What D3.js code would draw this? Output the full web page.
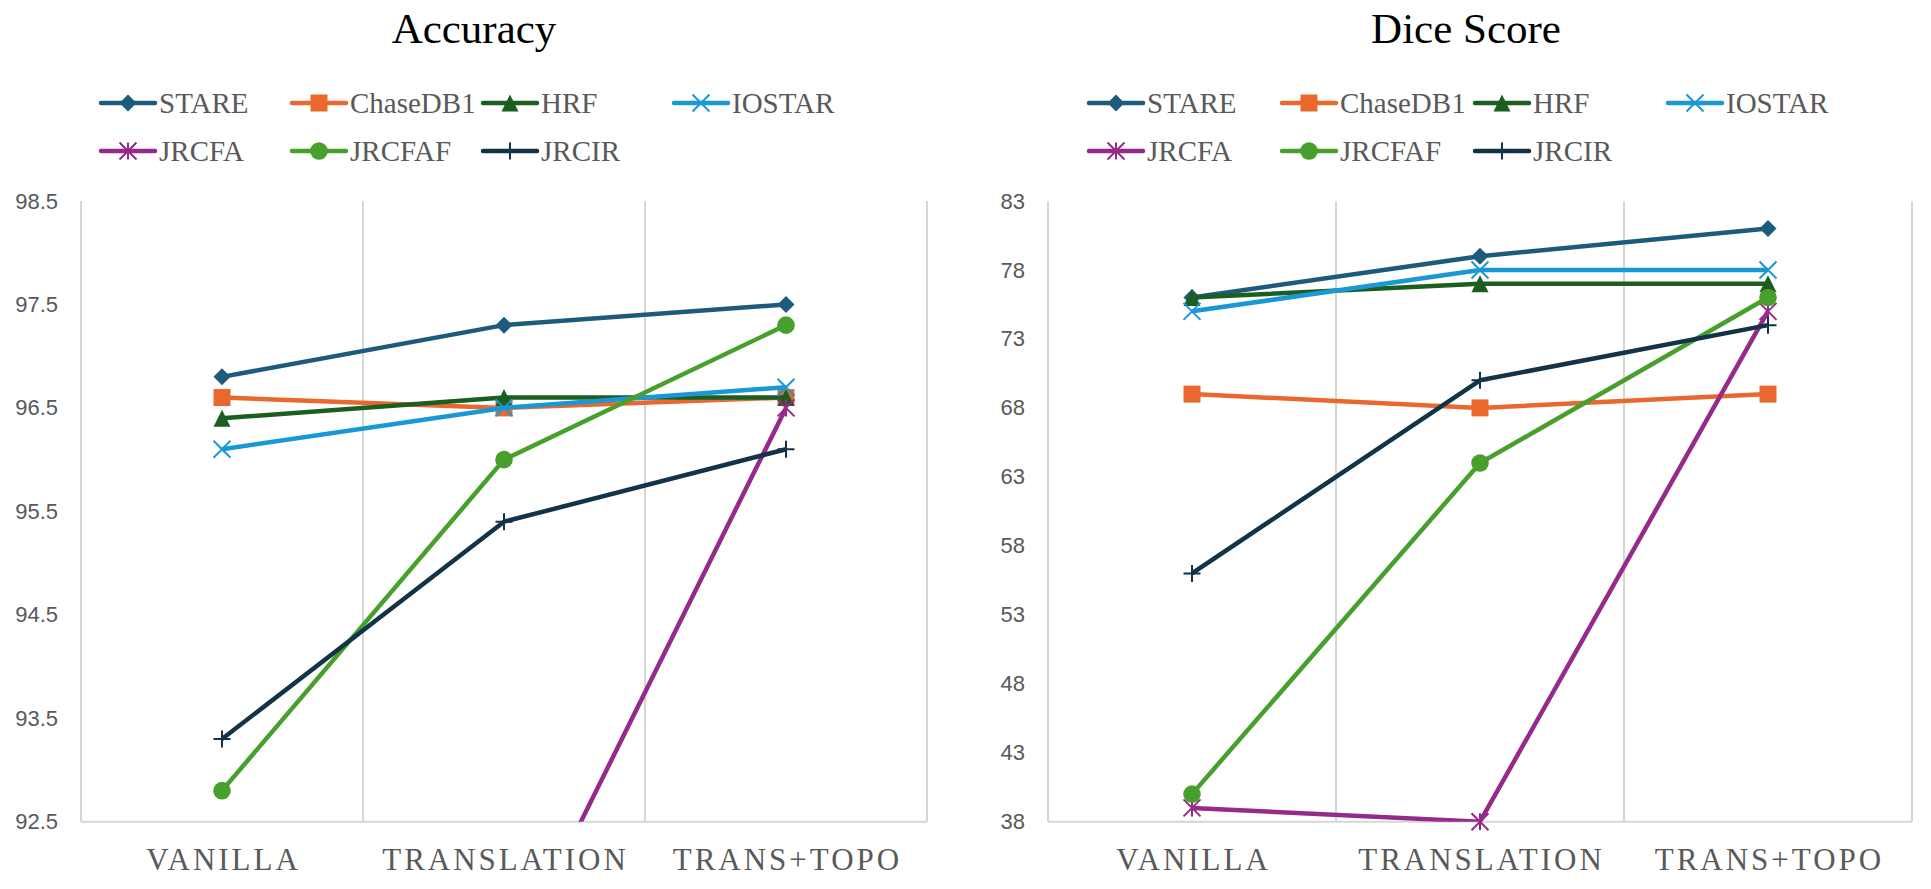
<!DOCTYPE html>
<html>
<head>
<meta charset="utf-8">
<script src="https://cdn.jsdelivr.net/npm/d3@7"></script>
<style>
  body { margin: 0; background: #fff; }
  svg { display: block; }
</style>
</head>
<body>
<div id="chart"></div>
<script>
// data
const categories = ["VANILLA", "TRANSLATION", "TRANS+TOPO"];
const seriesNames = ["STARE", "ChaseDB1", "HRF", "IOSTAR", "JRCFA", "JRCFAF", "JRCIR"];
const seriesColors = ["#1d5b7c", "#e8682d", "#1b5e20", "#1a98d5", "#952a8a", "#47a02c", "#133349"];
const seriesMarkers = ["diamond", "square", "triangle", "x", "star", "circle", "plus"];

const accuracyValues = [
    [96.8, 97.3, 97.5],
    [96.6, 96.5, 96.6],
    [96.4, 96.6, 96.6],
    [96.1, 96.5, 96.7],
    [91.1, 91.0, 96.5],
    [92.8, 96.0, 97.3],
    [93.3, 95.4, 96.1]
];
const diceValues = [
    [76, 79, 81],
    [69, 68, 69],
    [76, 77, 77],
    [75, 78, 78],
    [39, 38, 75],
    [40, 64, 76],
    [56, 70, 74]
];
const accuracyTicks = [92.5, 93.5, 94.5, 95.5, 96.5, 97.5, 98.5];
const diceTicks = [38, 43, 48, 53, 58, 63, 68, 73, 78, 83];

const W = 1931, H = 889;
const textGray = "#595959";
const gridColor = "#d6d6d6";

const svg = d3.select("#chart").append("svg")
    .attr("width", W)
    .attr("height", H);

// marker shapes, centred on 0,0
function markerPath(type) {
    const s = 8.5;
    switch (type) {
        case "diamond": return `M0,${-s}L${s},0L0,${s}L${-s},0Z`;
        case "square": return `M${-s},${-s}H${s}V${s}H${-s}Z`;
        case "triangle": return `M0,${-s}L${s},${s}L${-s},${s}Z`;
        case "x": return `M${-s},${-s}L${s},${s}M${s},${-s}L${-s},${s}`;
        case "star": return `M${-s},${-s}L${s},${s}M${s},${-s}L${-s},${s}M0,${-s}V${s}`;
        case "plus": return `M${-s},0H${s}M0,${-s}V${s}`;
    }
    return null;
}

function drawMarker(sel, type, color) {
    if (type === "circle") {
        sel.append("circle").attr("r", 8.8).attr("fill", color);
    } else if (type === "x" || type === "star" || type === "plus") {
        sel.append("path").attr("d", markerPath(type))
            .attr("fill", "none").attr("stroke", color).attr("stroke-width", 2);
    } else {
        sel.append("path").attr("d", markerPath(type)).attr("fill", color);
    }
}

function drawPanel(opt) {
    const g = svg.append("g");

    const x = d3.scaleBand().domain(categories).range([opt.left, opt.right]).padding(0);
    const y = d3.scaleLinear().domain([opt.ticks[0], opt.ticks[opt.ticks.length - 1]])
        .range([opt.bottom, opt.top]);
    const cx = c => x(c) + x.bandwidth() / 2;

    // title
    g.append("text")
        .attr("x", opt.titleX).attr("y", 43)
        .attr("text-anchor", "middle")
        .style("font-family", "'Liberation Serif', 'Times New Roman', serif")
        .style("font-size", "43px")
        .attr("fill", "#000")
        .text(opt.title);

    // legend, 4 columns
    seriesNames.forEach((name, i) => {
        const lx = opt.legendX + (i % 4) * opt.legendStep;
        const ly = i < 4 ? 103 : 151;
        const item = g.append("g").attr("transform", `translate(${lx},${ly})`);
        item.append("line")
            .attr("x1", 0).attr("x2", 54).attr("y1", 0).attr("y2", 0)
            .attr("stroke", seriesColors[i]).attr("stroke-width", 4.5)
            .attr("stroke-linecap", "round");
        drawMarker(item.append("g").attr("transform", "translate(27,0)"), seriesMarkers[i], seriesColors[i]);
        item.append("text")
            .attr("x", 58).attr("y", 9.5)
            .style("font-family", "'Liberation Serif', 'Times New Roman', serif")
            .style("font-size", "29px")
            .attr("fill", textGray)
            .text(name);
    });

    // vertical gridlines on category boundaries
    const edges = categories.map(c => x(c)).concat([opt.right]);
    g.selectAll(".vgrid").data(edges).enter().append("line")
        .attr("x1", d => d).attr("x2", d => d)
        .attr("y1", opt.top).attr("y2", opt.bottom)
        .attr("stroke", gridColor).attr("stroke-width", 2);

    // bottom axis line
    g.append("line")
        .attr("x1", opt.left).attr("x2", opt.right)
        .attr("y1", opt.bottom).attr("y2", opt.bottom)
        .attr("stroke", gridColor).attr("stroke-width", 2);

    // y tick labels
    const yAxis = d3.axisLeft(y).tickValues(opt.ticks).tickSize(0).tickPadding(0)
        .tickFormat(d => opt.tickFormat(d));
    const ya = g.append("g").attr("transform", `translate(${opt.left - 23},0)`).call(yAxis);
    ya.select(".domain").remove();
    ya.selectAll("text")
        .style("font-family", "'Liberation Sans', Arial, Helvetica, sans-serif")
        .style("font-size", "22px")
        .attr("fill", textGray);

    // category labels
    g.selectAll(".cat").data(categories).enter().append("text")
        .attr("x", d => cx(d) + 1.5).attr("y", 870)
        .attr("text-anchor", "middle")
        .style("font-family", "'Liberation Serif', 'Times New Roman', serif")
        .style("font-size", "31px")
        .style("letter-spacing", "3px")
        .attr("fill", textGray)
        .text(d => d);

    // clip so lines stop at the plot edge
    const clipId = "clip-" + opt.id;
    svg.append("clipPath").attr("id", clipId).append("rect")
        .attr("x", opt.left).attr("y", opt.top - 20)
        .attr("width", opt.right - opt.left).attr("height", opt.bottom - opt.top + 20);

    const line = d3.line().x((d, j) => cx(categories[j])).y(d => y(d));
    const [lo, hi] = y.domain();

    opt.values.forEach((vals, i) => {
        const sg = g.append("g");
        sg.append("path")
            .datum(vals)
            .attr("d", line)
            .attr("fill", "none")
            .attr("stroke", seriesColors[i])
            .attr("stroke-width", 4.5)
            .attr("stroke-linejoin", "round")
            .attr("clip-path", `url(#${clipId})`);
        vals.forEach((v, j) => {
            if (v < lo || v > hi) return;
            drawMarker(sg.append("g").attr("transform", `translate(${cx(categories[j])},${y(v)})`),
                seriesMarkers[i], seriesColors[i]);
        });
    });
}

drawPanel({
    id: "acc", title: "Accuracy", titleX: 474,
    left: 81, right: 927, top: 201, bottom: 821.7,
    ticks: accuracyTicks, values: accuracyValues,
    tickFormat: d => d3.format(".1f")(d),
    legendX: 101, legendStep: 191
});

drawPanel({
    id: "dice", title: "Dice Score", titleX: 1466,
    left: 1048, right: 1912, top: 201, bottom: 821.7,
    ticks: diceTicks, values: diceValues,
    tickFormat: d => d3.format("d")(d),
    legendX: 1089, legendStep: 193
});
</script>
</body>
</html>
